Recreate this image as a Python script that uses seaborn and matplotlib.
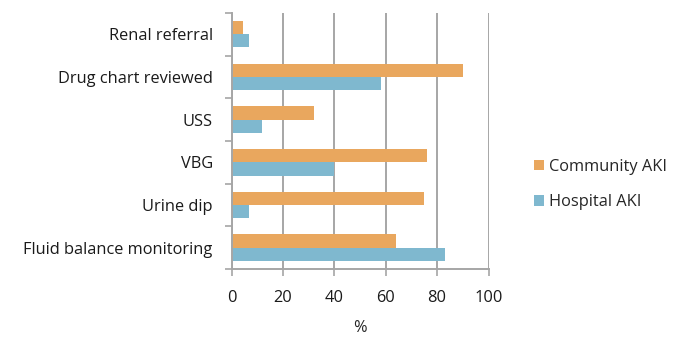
import pandas as pd
import numpy as np
import seaborn as sns
import matplotlib
matplotlib.use('Agg')
import matplotlib.pyplot as plt
from matplotlib.ticker import FixedLocator

categories = ['Renal referral', 'Drug chart reviewed', 'USS', 'VBG', 'Urine dip',
              'Fluid balance monitoring']
community_aki = [4.5, 90, 32, 76, 75, 64]
hospital_aki = [7, 58, 12, 40, 7, 83]
series = ['Community AKI', 'Hospital AKI']
colors = ['#E9A75E', '#7FB8CF']

df = pd.DataFrame({
    'Item': categories * 2,
    'Value': community_aki + hospital_aki,
    'Group': [series[0]] * len(categories) + [series[1]] * len(categories),
})

sns.set_style('white')
plt.rcParams['font.family'] = ['Open Sans', 'DejaVu Sans']
fs = 11.8

fig = plt.figure(figsize=(6.89, 3.38), dpi=100)
ax = fig.add_axes([0.336, 0.204, 0.373, 0.758])

sns.barplot(data=df, y='Item', x='Value', hue='Group', hue_order=series,
            order=categories, palette=colors, orient='h', width=0.62,
            saturation=1, ax=ax, linewidth=0)

ax.set_xlim(0, 100)
ax.set_ylim(len(categories) - 0.5, -0.5)
ax.set_xticks(range(0, 101, 20))
ax.grid(axis='x', color='#A6A6A6', linewidth=1.4)
ax.set_axisbelow(True)
for s in ['top', 'right']:
    ax.spines[s].set_visible(False)
for s in ['left', 'bottom']:
    ax.spines[s].set_color('#A6A6A6')
    ax.spines[s].set_linewidth(1.4)

ax.yaxis.set_minor_locator(FixedLocator(np.arange(-0.5, len(categories), 1)))
ax.tick_params(axis='y', which='major', length=0, pad=13.5, labelsize=fs, labelcolor='#1a1a1a')
ax.tick_params(axis='y', which='minor', length=5, color='#A6A6A6', width=1.2, left=True)
ax.tick_params(axis='x', length=5, color='#A6A6A6', width=1.2, bottom=True,
               labelsize=fs, labelcolor='#1a1a1a', pad=10)
ax.set_xlabel('%', fontsize=fs, labelpad=10)
ax.set_ylabel('')

ax.legend(title=None, frameon=False, loc='center left', bbox_to_anchor=(1.12, 0.33),
          fontsize=fs, handlelength=0.6, handleheight=0.6, handletextpad=0.3,
          labelspacing=1.2)

fig.savefig('out.png', dpi=100)
